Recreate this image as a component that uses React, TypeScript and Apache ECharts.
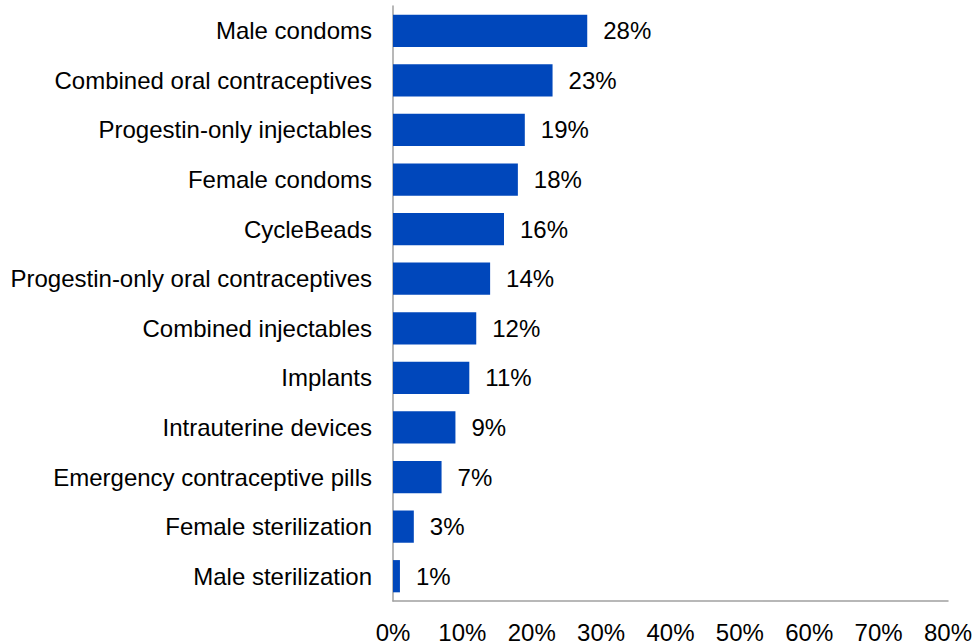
import React, { useEffect, useRef } from "react";
import * as echarts from "echarts";

const categories = [
  "Male condoms",
  "Combined oral contraceptives",
  "Progestin-only injectables",
  "Female condoms",
  "CycleBeads",
  "Progestin-only oral contraceptives",
  "Combined injectables",
  "Implants",
  "Intrauterine devices",
  "Emergency contraceptive pills",
  "Female sterilization",
  "Male sterilization",
];
const values = [28, 23, 19, 18, 16, 14, 12, 11, 9, 7, 3, 1];

export default function App() {
  const ref = useRef<HTMLDivElement>(null);
  useEffect(() => {
    if (!ref.current) return;
    const chart = echarts.init(ref.current, undefined, { renderer: "svg" });
    const font = "'Liberation Sans', Arial, sans-serif";
    chart.setOption({
      animation: false,
      grid: { left: 393, right: 27, top: 6, bottom: 43, containLabel: false },
      xAxis: {
        type: "value",
        min: 0,
        max: 80,
        interval: 10,
        axisLine: { show: true, lineStyle: { color: "#a0a0a0", width: 1.5 } },
        axisTick: { show: false },
        splitLine: { show: false },
        axisLabel: {
          formatter: "{value}%",
          color: "#000",
          fontFamily: font,
          fontSize: 24,
          margin: 19,
        },
      },
      yAxis: {
        type: "category",
        data: categories,
        inverse: true,
        axisLine: { show: true, lineStyle: { color: "#a0a0a0", width: 1.5 } },
        axisTick: { show: false },
        axisLabel: {
          color: "#000",
          fontFamily: font,
          fontSize: 24,
          margin: 21,
          padding: [5, 0, 0, 0],
        },
      },
      series: [
        {
          type: "bar",
          data: values,
          barWidth: "65%",
          itemStyle: { color: "#0047BB" },
          label: {
            show: true,
            position: "right",
            distance: 16,
            formatter: "{c}%",
            color: "#000",
            fontFamily: font,
            fontSize: 24,
            padding: [5, 0, 0, 0],
          },
        },
      ],
    });
    return () => chart.dispose();
  }, []);
  return (
    <div
      ref={ref}
      style={{ position: "fixed", left: 0, top: 0, width: 975, height: 644, background: "#fff" }}
    />
  );
}
